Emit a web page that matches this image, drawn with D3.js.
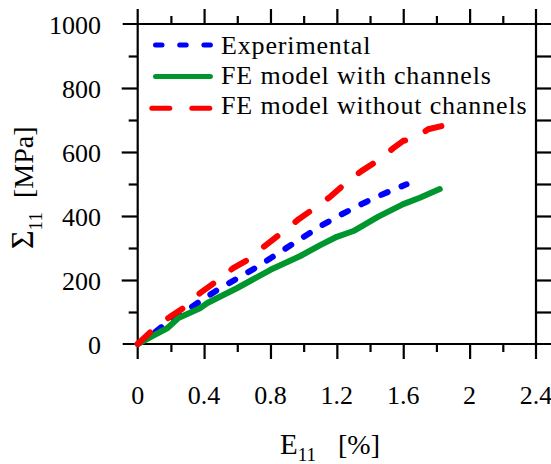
<!DOCTYPE html>
<html><head><meta charset="utf-8">
<script src="https://cdn.jsdelivr.net/npm/d3@7"></script>
<style>
html,body{margin:0;padding:0;background:#fff;}
svg{display:block;}
svg text{font-family:"Liberation Serif",serif;}
</style></head>
<body>
<svg id="c" width="551" height="464"></svg>
<script>
// Data (strain E11 [%], stress Σ11 [MPa])
const expX = [0, 0.05, 0.135, 0.27, 0.36, 0.48, 0.6, 0.72, 0.86, 0.98, 1.1, 1.22, 1.36, 1.48, 1.62];
const expY = [0, 15, 50, 96, 128, 169, 205, 241, 288, 328, 368, 403, 440, 469, 499];
const withX = [0, 0.1, 0.18, 0.245, 0.375, 0.42, 0.6, 0.8, 0.98, 1.1, 1.2, 1.3, 1.45, 1.6, 1.7, 1.82];
const withY = [0, 28, 50, 81, 112, 128, 175, 232, 275, 309, 335, 353, 398, 437, 457, 484];
const woX = [0, 0.09, 0.195, 0.3, 0.375, 0.485, 0.575, 0.68, 0.76, 0.875, 0.97, 1.07, 1.16, 1.26, 1.35, 1.46, 1.54, 1.6, 1.66, 1.75, 1.83];
const woY = [0, 44, 85, 121, 159, 200, 237, 268, 304, 350, 390, 426, 460, 506, 541, 578, 612, 635, 640, 671, 681];
const xTicks = [0, 0.4, 0.8, 1.2, 1.6, 2, 2.4];
const yTicks = [0, 200, 400, 600, 800, 1000];
const seriesNames = ["Experimental", "FE model with channels", "FE model without channels"];

const svg = d3.select("#c");
const FONT = "Liberation Serif";
const L = 137.7, R = 536, T = 24, B = 344;
const x = d3.scaleLinear().domain([0, 2.4]).range([L, R]);
const y = d3.scaleLinear().domain([0, 1000]).range([B, T]);

const series = [
  {name: seriesNames[0], xs: expX, ys: expY, color: "#0000ff", dash: "7,15", ldash: "6.5,17.7"},
  {name: seriesNames[1], xs: withX, ys: withY, color: "#00962e", dash: null, ldash: null},
  {name: seriesNames[2], xs: woX, ys: woY, color: "#ff0000", dash: "17,23", ldash: "18,22"}
];

// frame with extended lines
const ext = 15;
const frame = svg.append("g").attr("stroke", "#000").attr("stroke-width", 2.2);
frame.append("line").attr("x1", L - ext).attr("x2", R + ext).attr("y1", B).attr("y2", B);
frame.append("line").attr("x1", L - ext).attr("x2", R + ext).attr("y1", T).attr("y2", T);
frame.append("line").attr("x1", L).attr("x2", L).attr("y1", T - ext).attr("y2", B + ext);
frame.append("line").attr("x1", R).attr("x2", R).attr("y1", T - ext).attr("y2", B + ext);

const minorX = d3.range(0.2, 2.4, 0.4);
const minorY = d3.range(100, 1000, 200);
function styleAxis(g){ g.select(".domain").remove(); g.selectAll("line").attr("stroke","#000").attr("stroke-width",2.2); }

svg.append("g").attr("transform", `translate(0,${B})`)
  .call(d3.axisBottom(x).tickValues(xTicks.slice(1,-1)).tickSize(15).tickFormat(""))
  .call(styleAxis);
svg.append("g").attr("transform", `translate(0,${B})`)
  .call(d3.axisBottom(x).tickValues(minorX).tickSize(8).tickFormat(""))
  .call(styleAxis);
svg.append("g").attr("transform", `translate(0,${T})`)
  .call(d3.axisTop(x).tickValues(xTicks.slice(1,-1)).tickSize(15).tickFormat(""))
  .call(styleAxis);
svg.append("g").attr("transform", `translate(0,${T})`)
  .call(d3.axisTop(x).tickValues(minorX).tickSize(8).tickFormat(""))
  .call(styleAxis);
svg.append("g").attr("transform", `translate(${L},0)`)
  .call(d3.axisLeft(y).tickValues(yTicks.slice(1,-1)).tickSize(16).tickFormat(""))
  .call(styleAxis);
svg.append("g").attr("transform", `translate(${L},0)`)
  .call(d3.axisLeft(y).tickValues(minorY).tickSize(9).tickFormat(""))
  .call(styleAxis);
svg.append("g").attr("transform", `translate(${R},0)`)
  .call(d3.axisRight(y).tickValues(yTicks.slice(1,-1).concat(minorY)).tickSize(16).tickFormat(""))
  .call(styleAxis);

// tick labels
const fmt = d => String(d);
svg.append("g").selectAll("text").data(xTicks).join("text")
  .attr("font-family", FONT)
  .attr("x", d => x(d)).attr("y", 404).attr("text-anchor", "middle")
  .attr("font-size", 26).text(fmt);
svg.append("g").selectAll("text").data(yTicks).join("text")
  .attr("font-family", FONT)
  .attr("x", 101).attr("y", d => y(d) + 10).attr("text-anchor", "end")
  .attr("font-size", 26).text(fmt);

// lines
const line = d3.line().x(d => x(d[0])).y(d => y(d[1]));
series.forEach(s => {
  const pts = s.xs.map((v, i) => [v, s.ys[i]]);
  svg.append("path").datum(pts).attr("d", line)
    .attr("fill", "none").attr("stroke", s.color).attr("stroke-width", 6)
    .attr("stroke-linecap", "round").attr("stroke-linejoin", "round")
    .attr("stroke-dasharray", s.dash);
});

// legend
const lg = svg.append("g");
series.forEach((s, i) => {
  const yy = 45 + i * 31.6;
  lg.append("line").attr("x1", i === 2 ? 151.8 : 155.5).attr("x2", 210.4).attr("y1", yy).attr("y2", yy)
    .attr("stroke", s.color).attr("stroke-width", 5).attr("stroke-linecap", "round")
    .attr("stroke-dasharray", s.ldash);
  lg.append("text").attr("font-family", FONT).attr("x", 221).attr("y", 54 + i * 30).attr("font-size", 26)
    .attr("letter-spacing", 0.85).text(s.name);
});

// axis titles
const xt = svg.append("text").attr("font-family", FONT).attr("x", 280).attr("y", 454).attr("font-size", 29);
xt.append("tspan").text("E");
xt.append("tspan").attr("font-size", 19).attr("dy", 7).text("11");
xt.append("tspan").attr("dy", -7).attr("dx", 22).attr("font-size", 28).text("[%]");

const yt = svg.append("text").attr("font-family", FONT).attr("transform", "translate(33,249) rotate(-90)").attr("font-size", 32);
yt.append("tspan").text("Σ");
yt.append("tspan").attr("font-size", 19).attr("dy", 9).text("11");
yt.append("tspan").attr("dy", -9).attr("dx", 14).attr("font-size", 28).text("[MPa]");
</script>
</body></html>
